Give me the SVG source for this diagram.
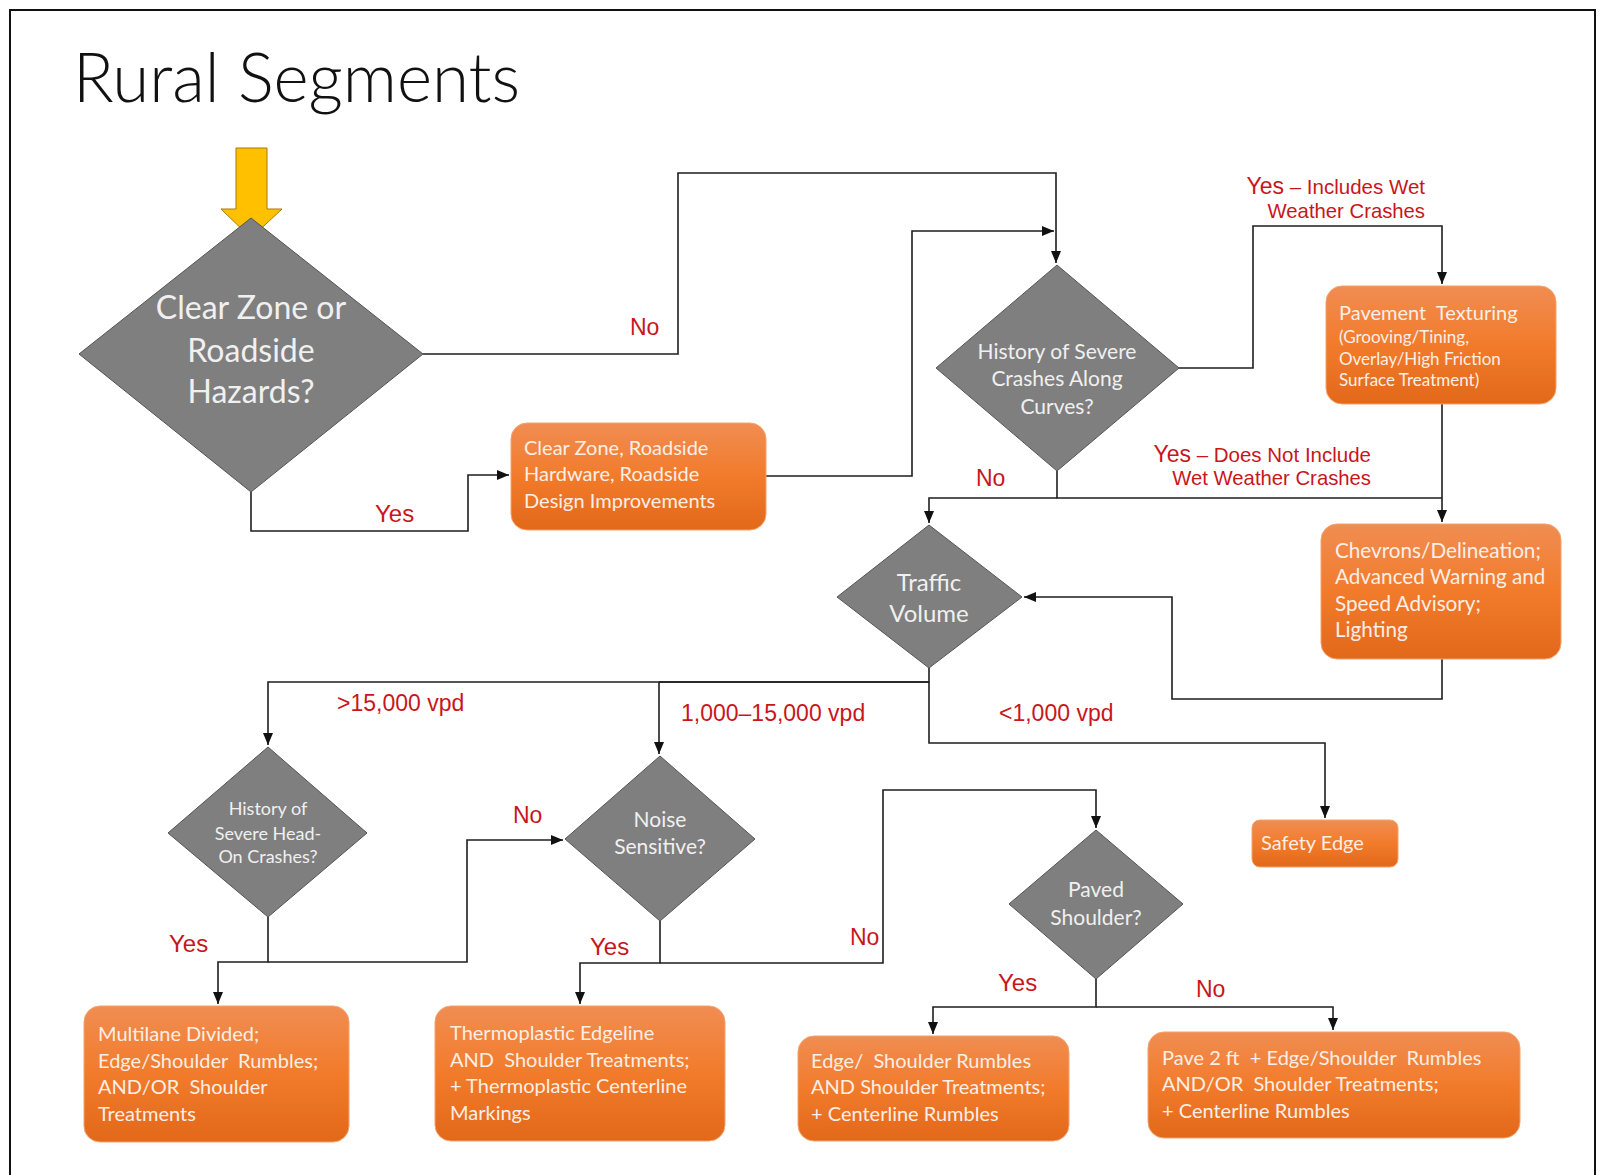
<svg xmlns="http://www.w3.org/2000/svg" width="1602" height="1175" viewBox="0 0 1602 1175">
  <defs>
    <linearGradient id="orangeFill" x1="0" y1="0" x2="0" y2="1">
      <stop offset="0" stop-color="#f08d52"/>
      <stop offset="0.5" stop-color="#f27b2b"/>
      <stop offset="1" stop-color="#e2681a"/>
    </linearGradient>
    <marker id="arrow" viewBox="0 0 12 10" refX="12" refY="5" markerWidth="12" markerHeight="10" markerUnits="userSpaceOnUse" orient="auto">
      <path d="M0,0 L12,5 L0,10 z" fill="#111"/>
    </marker>
    <style>
      .frame { fill: none; stroke: #111; stroke-width: 2; }
      .title { font-family: "Lato Light", Lato, "Open Sans", sans-serif; font-weight: 300; fill: #111; }
      .decision { fill: #7f7f7f; stroke: #555; stroke-width: 1; }
      .dtext { font-family: Lato, "Open Sans", sans-serif; fill: #f0f0f0; text-anchor: middle; }
      .action { fill: url(#orangeFill); stroke: #f3a26f; stroke-width: 1; }
      .atext { font-family: Lato, "Open Sans", sans-serif; fill: #fbeee6; font-size: 20px; white-space: pre; }
      .atext.small { font-size: 17px; }
      .atext.wide { font-size: 20.7px; }
      .wire { fill: none; stroke: #1e1e1e; stroke-width: 1.6; }
      .wire.arr { marker-end: url(#arrow); }
      .label { font-family: "Liberation Sans", Arial, sans-serif; fill: #c8161d; font-size: 23px; }
      .label.end { text-anchor: end; }
      .label.sub { font-size: 20.3px; }
      .label .rest { font-size: 20.5px; }
      .label.yes { font-size: 24px; }
    </style>
  </defs>

  <rect width="1602" height="1175" fill="#fff"/>
  <path class="frame" d="M10,1175 V10 H1595 V1175"/>

  <text class="title" x="73" y="102" font-size="68" textLength="447" lengthAdjust="spacingAndGlyphs">Rural Segments</text>

  <!-- connectors -->
  <g id="connectors">
    <path class="wire arr" d="M423,354 H678 V173 H1056 V263"/>
    <path class="wire arr" d="M251,492 V531 H468 V475 H509"/>
    <path class="wire arr" d="M766,476 H912 V231 H1054"/>
    <path class="wire arr" d="M1179,368 H1253 V226 H1442 V284"/>
    <path class="wire arr" d="M1442,404 V522"/>
    <path class="wire" d="M1057,471 V498 H1442"/>
    <path class="wire arr" d="M1057,498 H929 V523"/>
    <path class="wire arr" d="M1442,659 V699 H1172 V597 H1024"/>
    <path class="wire arr" d="M929,668 V682 H268 V745"/>
    <path class="wire" d="M659,682 H929" stroke-width="3"/>
    <path class="wire arr" d="M659,682 V754"/>
    <path class="wire arr" d="M929,682 V743 H1325 V818"/>
    <path class="wire arr" d="M268,917 V962 H218 V1004"/>
    <path class="wire arr" d="M268,962 H467 V840 H563"/>
    <path class="wire arr" d="M660,921 V963 H580 V1004"/>
    <path class="wire arr" d="M660,963 H883 V790 H1096 V828"/>
    <path class="wire arr" d="M1096,979 V1007 H933 V1034"/>
    <path class="wire arr" d="M1096,1007 H1333 V1030"/>

    <text class="label" x="630" y="335">No</text>
    <text class="label yes" x="375" y="522">Yes</text>
    <text class="label end" x="1425" y="194">Yes<tspan class="rest"> – Includes Wet</tspan></text>
    <text class="label end sub" x="1425" y="218">Weather Crashes</text>
    <text class="label" x="976" y="486">No</text>
    <text class="label end" x="1371" y="462">Yes<tspan class="rest"> – Does Not Include</tspan></text>
    <text class="label end sub" x="1371" y="485">Wet Weather Crashes</text>
    <text class="label" x="337" y="711">&gt;15,000 vpd</text>
    <text class="label" x="681" y="721">1,000–15,000 vpd</text>
    <text class="label" x="999" y="721">&lt;1,000 vpd</text>
    <text class="label yes" x="169" y="952">Yes</text>
    <text class="label" x="513" y="823">No</text>
    <text class="label yes" x="590" y="955">Yes</text>
    <text class="label" x="850" y="945">No</text>
    <text class="label yes" x="998" y="991">Yes</text>
    <text class="label" x="1196" y="997">No</text>
  </g>

  <!-- start arrow -->
  <g id="start">
    <polygon points="236,148 267,148 267,209 282,209 251,238 221,209 236,209" fill="#ffc000" stroke="#a67c00" stroke-width="1"/>
  </g>

  <!-- decisions -->
  <g id="d-clear-zone">
    <polygon class="decision" points="79,354 251,218 423,354 251,492"/>
    <text class="dtext" font-size="32"><tspan x="251" y="319">Clear Zone or</tspan><tspan x="251" y="362">Roadside</tspan><tspan x="251" y="403">Hazards?</tspan></text>
  </g>
  <g id="d-curves">
    <polygon class="decision" points="936,368 1057,265 1179,368 1057,471"/>
    <text class="dtext" font-size="21"><tspan x="1057" y="359">History of Severe</tspan><tspan x="1057" y="386">Crashes Along</tspan><tspan x="1057" y="414">Curves?</tspan></text>
  </g>
  <g id="d-traffic">
    <polygon class="decision" points="837,597 929,525 1022,597 929,668"/>
    <text class="dtext" font-size="24"><tspan x="929" y="591">Traffic</tspan><tspan x="929" y="622">Volume</tspan></text>
  </g>
  <g id="d-headon">
    <polygon class="decision" points="168,833 268,747 367,833 268,917"/>
    <text class="dtext" font-size="18"><tspan x="268" y="815">History of</tspan><tspan x="268" y="840">Severe Head-</tspan><tspan x="268" y="863">On Crashes?</tspan></text>
  </g>
  <g id="d-noise">
    <polygon class="decision" points="565,839 660,756 755,839 660,921"/>
    <text class="dtext" font-size="21"><tspan x="660" y="827">Noise</tspan><tspan x="660" y="854">Sensitive?</tspan></text>
  </g>
  <g id="d-paved">
    <polygon class="decision" points="1009,904 1096,830 1183,904 1096,979"/>
    <text class="dtext" font-size="21"><tspan x="1096" y="897">Paved</tspan><tspan x="1096" y="925">Shoulder?</tspan></text>
  </g>

  <!-- actions -->
  <g id="a-clear-zone">
    <rect class="action" x="511" y="423" width="255" height="107" rx="16"/>
    <text class="atext"><tspan x="524" y="455">Clear Zone, Roadside</tspan><tspan x="524" y="481">Hardware, Roadside</tspan><tspan x="524" y="508">Design Improvements</tspan></text>
  </g>
  <g id="a-pavement">
    <rect class="action" x="1326" y="286" width="230" height="118" rx="16"/>
    <text class="atext"><tspan x="1339" y="320">Pavement  Texturing</tspan></text>
    <text class="atext small"><tspan x="1339" y="343">(Grooving/Tining,</tspan><tspan x="1339" y="365">Overlay/High Friction</tspan><tspan x="1339" y="386">Surface Treatment)</tspan></text>
  </g>
  <g id="a-chevrons">
    <rect class="action" x="1321" y="524" width="240" height="135" rx="16"/>
    <text class="atext wide"><tspan x="1335" y="558">Chevrons/Delineation;</tspan><tspan x="1335" y="584">Advanced Warning and</tspan><tspan x="1335" y="611">Speed Advisory;</tspan><tspan x="1335" y="637">Lighting</tspan></text>
  </g>
  <g id="a-safety-edge">
    <rect class="action" x="1252" y="820" width="146" height="47" rx="8"/>
    <text class="atext" x="1261" y="850">Safety Edge</text>
  </g>
  <g id="a-multilane">
    <rect class="action" x="84" y="1006" width="265" height="136" rx="16"/>
    <text class="atext"><tspan x="98" y="1041">Multilane Divided;</tspan><tspan x="98" y="1068">Edge/Shoulder  Rumbles;</tspan><tspan x="98" y="1094">AND/OR  Shoulder</tspan><tspan x="98" y="1121">Treatments</tspan></text>
  </g>
  <g id="a-thermoplastic">
    <rect class="action" x="435" y="1006" width="290" height="135" rx="16"/>
    <text class="atext"><tspan x="450" y="1040">Thermoplastic Edgeline</tspan><tspan x="450" y="1067">AND  Shoulder Treatments;</tspan><tspan x="450" y="1093">+ Thermoplastic Centerline</tspan><tspan x="450" y="1120">Markings</tspan></text>
  </g>
  <g id="a-edge-rumbles">
    <rect class="action" x="798" y="1036" width="271" height="105" rx="16"/>
    <text class="atext"><tspan x="811" y="1068">Edge/  Shoulder Rumbles</tspan><tspan x="811" y="1094">AND Shoulder Treatments;</tspan><tspan x="811" y="1121">+ Centerline Rumbles</tspan></text>
  </g>
  <g id="a-pave-2ft">
    <rect class="action" x="1148" y="1032" width="372" height="106" rx="16"/>
    <text class="atext"><tspan x="1162" y="1065">Pave 2 ft  + Edge/Shoulder  Rumbles</tspan><tspan x="1162" y="1091">AND/OR  Shoulder Treatments;</tspan><tspan x="1162" y="1118">+ Centerline Rumbles</tspan></text>
  </g>
</svg>
